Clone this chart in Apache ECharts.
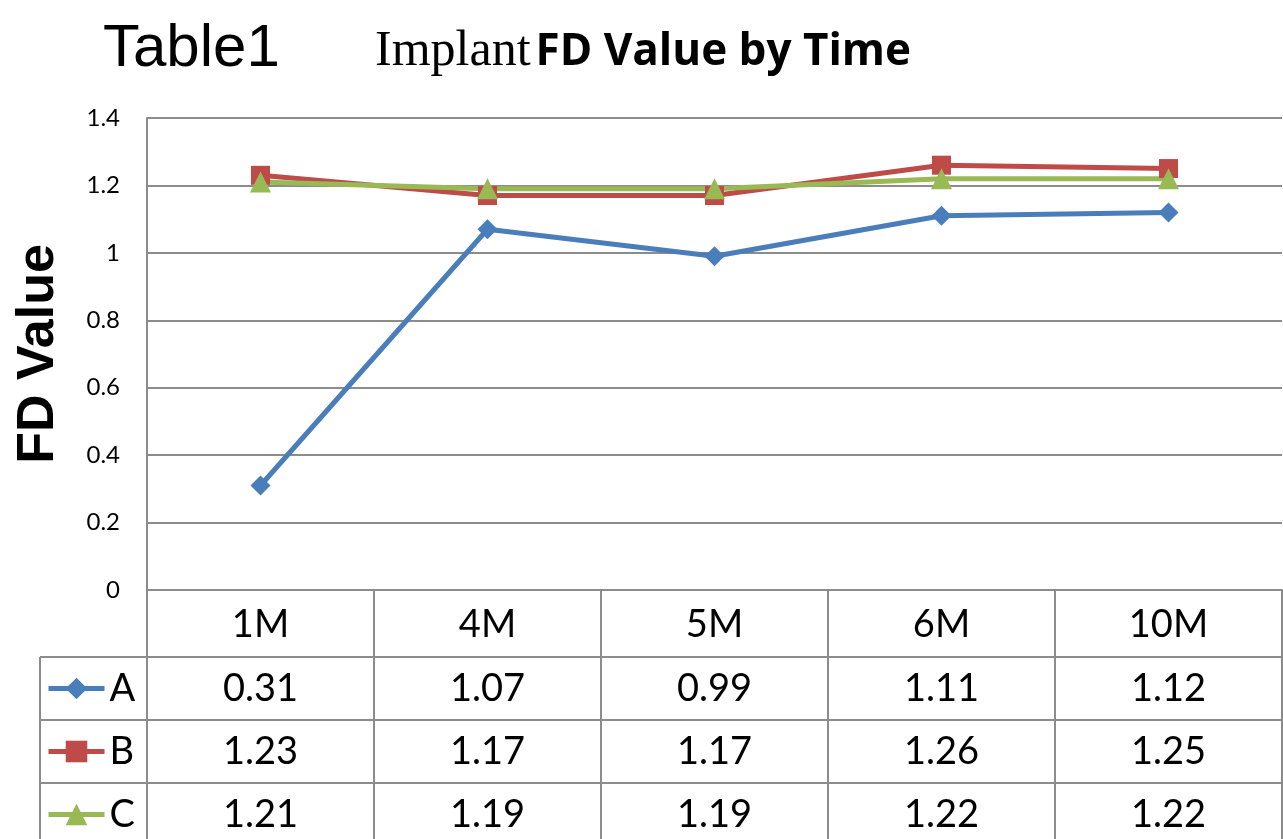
<!DOCTYPE html>
<html>
<head>
<meta charset="utf-8">
<script src="https://cdn.jsdelivr.net/npm/echarts@6/dist/echarts.min.js"></script>
<style>
html,body{margin:0;padding:0;background:#fff;}
#main{width:1283px;height:839px;}
</style>
</head>
<body>
<div id="main"></div>
<script>
// 数据
var months = ['1M', '4M', '5M', '6M', '10M'];
var seriesNames = ['A', 'B', 'C'];
var valuesA = [0.31, 1.07, 0.99, 1.11, 1.12];
var valuesB = [1.23, 1.17, 1.17, 1.26, 1.25];
var valuesC = [1.21, 1.19, 1.19, 1.22, 1.22];
var yTicks = [0, 0.2, 0.4, 0.6, 0.8, 1, 1.2, 1.4];

var colors = ['#4A7EBB', '#BE4B48', '#98B954'];
var gridColor = '#8c8c8c';
var cellFont = 'Lato';

// 表格布局
var gridLeft = 147, gridTop = 118, gridBottom = 249;
var rowH = 63, headH = 67, tableLeft = 40;
var axisY = 839 - gridBottom;

var myChart = echarts.init(document.getElementById('main'));

// 表格里的数值行 (每行一个x轴)
function rowAxis(vals, offset){
	return {
		type: 'category',
		data: months,
		gridIndex: 0,
		position: 'bottom',
		offset: offset,
		axisLine: {show: true, lineStyle: {color: gridColor, width: 2}},
		axisTick: {show: false},
		axisLabel: {
			margin: 13,
			color: '#000',
			fontFamily: cellFont,
			fontSize: 38,
			formatter: function(v, i){ return vals[i].toFixed(2); }
		}
	};
}

// 图例 (每行一个)
function rowLegend(name, i){
	return {
		orient: 'vertical',
		left: 46,
		top: axisY + headH + rowH * i,
		padding: 0,
		itemWidth: 56,
		itemHeight: 27,
		itemGap: 0,
		selectedMode: false,
		lineStyle: {width: 5},
		textStyle: {fontFamily: cellFont, fontSize: 38, color: '#000', lineHeight: rowH},
		data: [name]
	};
}

var option = {
	animation: false,
	title: [{
		text: 'Table1',
		left: 98,
		top: 14,
		textStyle: {fontFamily: 'Liberation Sans', fontSize: 60, fontWeight: 'normal', color: '#000'}
	}, {
		text: '{a|Implant} {b|FD Value by Time}',
		left: 370,
		top: 22,
		textStyle: {
			fontWeight: 'normal',
			rich: {
				a: {fontFamily: 'Liberation Serif', fontSize: 50, fontWeight: 'normal', color: '#000'},
				b: {fontFamily: 'Open Sans', fontSize: 44, fontWeight: 'bold', color: '#000'}
			}
		}
	}],
	legend: seriesNames.map(rowLegend),
	grid: {left: gridLeft, right: 1, top: gridTop, bottom: gridBottom},
	xAxis: [{
		type: 'category',
		data: months,
		axisLine: {show: true, lineStyle: {color: gridColor, width: 2}},
		axisTick: {show: true, length: gridBottom, interval: 0, lineStyle: {color: gridColor, width: 2}},
		axisLabel: {margin: 16, color: '#000', fontFamily: cellFont, fontSize: 38}
	},
	rowAxis(valuesA, headH),
	rowAxis(valuesB, headH + rowH),
	rowAxis(valuesC, headH + rowH * 2)
	],
	yAxis: {
		type: 'value',
		min: yTicks[0],
		max: yTicks[yTicks.length - 1],
		interval: 0.2,
		name: 'FD Value',
		nameLocation: 'middle',
		nameRotate: 90,
		nameGap: 82,
		nameTextStyle: {fontFamily: 'Liberation Sans', fontSize: 52, fontWeight: 'bold', color: '#000'},
		axisLine: {show: true, lineStyle: {color: gridColor, width: 2}},
		axisTick: {show: false},
		axisLabel: {margin: 27, color: '#000', fontFamily: cellFont, fontSize: 24},
		splitLine: {lineStyle: {color: gridColor, width: 2}}
	},
	series: [{
		name: 'A',
		type: 'line',
		data: valuesA,
		symbol: 'diamond',
		symbolSize: 20,
		lineStyle: {width: 5, color: colors[0]},
		itemStyle: {color: colors[0]}
	}, {
		name: 'B',
		type: 'line',
		data: valuesB,
		symbol: 'rect',
		symbolSize: 19,
		lineStyle: {width: 5, color: colors[1]},
		itemStyle: {color: colors[1]}
	}, {
		name: 'C',
		type: 'line',
		data: valuesC,
		symbol: 'triangle',
		symbolSize: 21,
		lineStyle: {width: 5, color: colors[2]},
		itemStyle: {color: colors[2]}
	}],
	// 图例列的表格线
	graphic: [{
		type: 'line',
		shape: {x1: tableLeft, y1: axisY + headH, x2: tableLeft, y2: 839},
		style: {stroke: gridColor, lineWidth: 2}
	}, {
		type: 'line',
		shape: {x1: tableLeft, y1: axisY + headH, x2: gridLeft, y2: axisY + headH},
		style: {stroke: gridColor, lineWidth: 2}
	}, {
		type: 'line',
		shape: {x1: tableLeft, y1: axisY + headH + rowH, x2: gridLeft, y2: axisY + headH + rowH},
		style: {stroke: gridColor, lineWidth: 2}
	}, {
		type: 'line',
		shape: {x1: tableLeft, y1: axisY + headH + rowH * 2, x2: gridLeft, y2: axisY + headH + rowH * 2},
		style: {stroke: gridColor, lineWidth: 2}
	}]
};
myChart.setOption(option);
</script>
</body>
</html>
